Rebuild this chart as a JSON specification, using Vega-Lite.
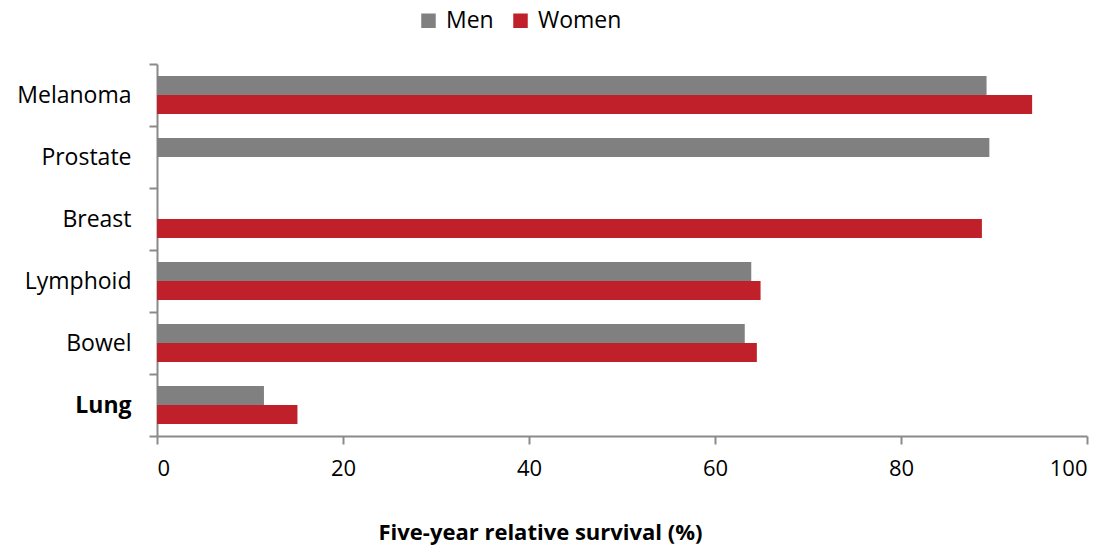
{
  "$schema": "https://vega.github.io/schema/vega-lite/v6.json",
  "width": 930,
  "height": 372,
  "autosize": {"type": "none"},
  "padding": {"left": 157, "top": 64, "right": 26, "bottom": 110},
  "background": "white",
  "config": {
    "view": {"stroke": null},
    "font": "Open Sans",
    "axis": {"grid": false, "domainColor": "#8a8a8a", "domainWidth": 2, "tickColor": "#8a8a8a", "tickWidth": 2, "tickSize": 8, "labelColor": "#000000", "labelFont": "Open Sans", "labelFontSize": 22}
  },
  "data": {
    "values": [
      {"cancer": "Melanoma", "sex": "Men", "survival": 89.2},
      {"cancer": "Melanoma", "sex": "Women", "survival": 94.1},
      {"cancer": "Prostate", "sex": "Men", "survival": 89.5},
      {"cancer": "Breast", "sex": "Women", "survival": 88.7},
      {"cancer": "Lymphoid", "sex": "Men", "survival": 63.9},
      {"cancer": "Lymphoid", "sex": "Women", "survival": 64.9},
      {"cancer": "Bowel", "sex": "Men", "survival": 63.2},
      {"cancer": "Bowel", "sex": "Women", "survival": 64.5},
      {"cancer": "Lung", "sex": "Men", "survival": 11.5},
      {"cancer": "Lung", "sex": "Women", "survival": 15.1}
    ]
  },
  "mark": {"type": "bar"},
  "encoding": {
    "y": {
      "field": "cancer",
      "type": "nominal",
      "sort": ["Melanoma", "Prostate", "Breast", "Lymphoid", "Bowel", "Lung"],
      "scale": {"paddingInner": 0, "paddingOuter": 0},
      "axis": {
        "title": null,
        "tickBand": "extent",
        "labelPadding": 18,
        "labelFontSize": 23,
        "labelFontWeight": {"condition": {"test": "datum.value == 'Lung'", "value": "bold"}, "value": "normal"}
      }
    },
    "yOffset": {
      "field": "sex",
      "type": "nominal",
      "scale": {"domain": ["Men", "Women"], "paddingInner": 0, "paddingOuter": 0.63}
    },
    "x": {
      "field": "survival",
      "type": "quantitative",
      "scale": {"domain": [0, 100], "nice": false},
      "axis": {
        "values": [0, 20, 40, 60, 80, 100],
        "labelPadding": 14,
        "title": "Five-year relative survival (%)",
        "titleFont": "Open Sans",
        "titleFontSize": 22,
        "titleFontWeight": "bold",
        "titleColor": "#000000",
        "titleX": 383,
        "titleY": 96,
        "titleBaseline": "middle"
      }
    },
    "color": {
      "field": "sex",
      "type": "nominal",
      "scale": {"domain": ["Men", "Women"], "range": ["#808080", "#c0202a"]},
      "legend": {
        "title": null,
        "orient": "none",
        "direction": "horizontal",
        "legendX": 260,
        "legendY": -55,
        "symbolType": "square",
        "symbolSize": 210,
        "symbolStrokeWidth": 0,
        "symbolOpacity": 1,
        "labelFontSize": 23,
        "labelFont": "Open Sans",
        "labelColor": "#000000",
        "labelOffset": 6,
        "columnPadding": 15
      }
    }
  }
}
